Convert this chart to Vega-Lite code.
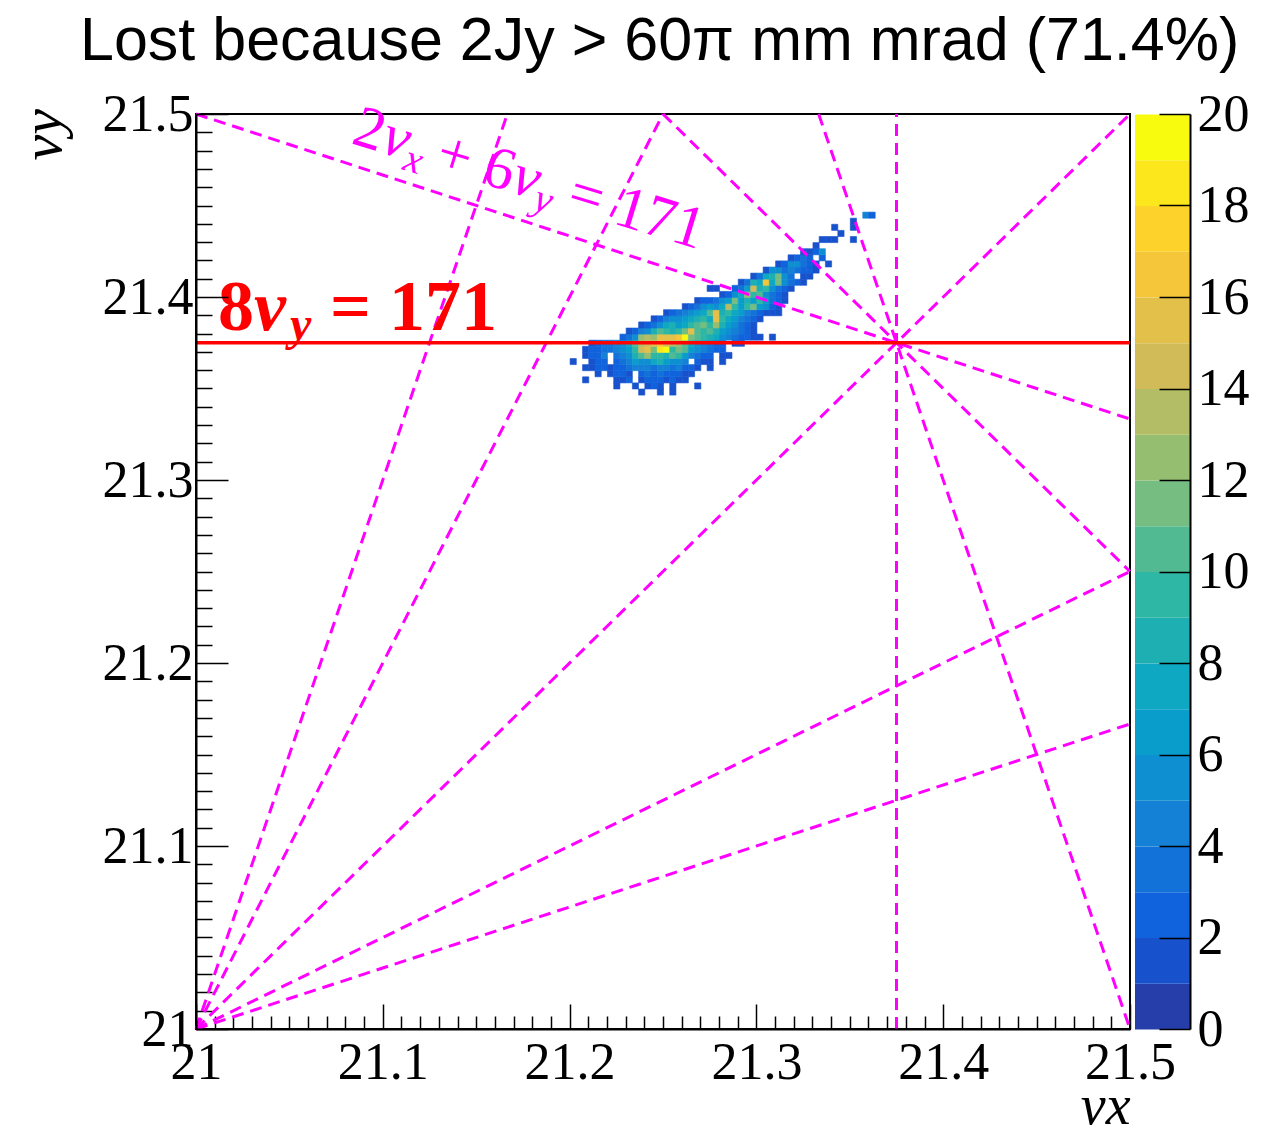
{
"$schema": "https://vega.github.io/schema/vega-lite/v6.json",
"autosize": "none",
"padding": {"left": 196, "top": 114, "right": 1079, "bottom": 1023},
"background": "white",
"title": {"text": "Lost because 2Jy > 60π mm mrad (71.4%)", "font": "Liberation Sans", "fontSize": 61, "fontWeight": "normal", "color": "black", "anchor": "start", "frame": "group", "dx": -116, "offset": -34, "baseline": "alphabetic"},
"spacing": 5,
"bounds": "flush",
"datasets": {
"cells": [
{"vx":21.23667,"vy":21.34667,"n":1},{"vx":21.24667,"vy":21.34667,"n":1},{"vx":21.25333,"vy":21.34667,"n":1},
{"vx":21.22333,"vy":21.35,"n":1},{"vx":21.23333,"vy":21.35,"n":1},{"vx":21.24,"vy":21.35,"n":1},{"vx":21.24333,"vy":21.35,"n":2},{"vx":21.24667,"vy":21.35,"n":1},{"vx":21.25333,"vy":21.35,"n":1},{"vx":21.26667,"vy":21.35,"n":1},
{"vx":21.20667,"vy":21.35333,"n":1},{"vx":21.22333,"vy":21.35333,"n":1},{"vx":21.22667,"vy":21.35333,"n":1},{"vx":21.23,"vy":21.35333,"n":2},{"vx":21.23667,"vy":21.35333,"n":1},{"vx":21.24,"vy":21.35333,"n":2},{"vx":21.24333,"vy":21.35333,"n":2},{"vx":21.24667,"vy":21.35333,"n":2},{"vx":21.25,"vy":21.35333,"n":1},{"vx":21.25333,"vy":21.35333,"n":2},{"vx":21.25667,"vy":21.35333,"n":1},{"vx":21.26,"vy":21.35333,"n":1},
{"vx":21.21333,"vy":21.35667,"n":1},{"vx":21.22,"vy":21.35667,"n":1},{"vx":21.22333,"vy":21.35667,"n":2},{"vx":21.22667,"vy":21.35667,"n":2},{"vx":21.23,"vy":21.35667,"n":1},{"vx":21.23667,"vy":21.35667,"n":2},{"vx":21.24,"vy":21.35667,"n":3},{"vx":21.24333,"vy":21.35667,"n":2},{"vx":21.24667,"vy":21.35667,"n":3},{"vx":21.25,"vy":21.35667,"n":2},{"vx":21.25333,"vy":21.35667,"n":2},{"vx":21.25667,"vy":21.35667,"n":2},{"vx":21.26,"vy":21.35667,"n":1},{"vx":21.26333,"vy":21.35667,"n":1},
{"vx":21.20667,"vy":21.36,"n":1},{"vx":21.21,"vy":21.36,"n":1},{"vx":21.21333,"vy":21.36,"n":2},{"vx":21.21667,"vy":21.36,"n":2},{"vx":21.22,"vy":21.36,"n":1},{"vx":21.22333,"vy":21.36,"n":2},{"vx":21.22667,"vy":21.36,"n":2},{"vx":21.23,"vy":21.36,"n":3},{"vx":21.23333,"vy":21.36,"n":4},{"vx":21.23667,"vy":21.36,"n":4},{"vx":21.24,"vy":21.36,"n":4},{"vx":21.24333,"vy":21.36,"n":3},{"vx":21.24667,"vy":21.36,"n":4},{"vx":21.25,"vy":21.36,"n":4},{"vx":21.25333,"vy":21.36,"n":3},{"vx":21.25667,"vy":21.36,"n":4},{"vx":21.26,"vy":21.36,"n":2},{"vx":21.26333,"vy":21.36,"n":2},{"vx":21.26667,"vy":21.36,"n":1},{"vx":21.27333,"vy":21.36,"n":1},
{"vx":21.2,"vy":21.36333,"n":1},{"vx":21.21,"vy":21.36333,"n":1},{"vx":21.21333,"vy":21.36333,"n":2},{"vx":21.21667,"vy":21.36333,"n":2},{"vx":21.22333,"vy":21.36333,"n":2},{"vx":21.22667,"vy":21.36333,"n":3},{"vx":21.23,"vy":21.36333,"n":4},{"vx":21.23333,"vy":21.36333,"n":6},{"vx":21.23667,"vy":21.36333,"n":5},{"vx":21.24,"vy":21.36333,"n":5},{"vx":21.24333,"vy":21.36333,"n":7},{"vx":21.24667,"vy":21.36333,"n":8},{"vx":21.25,"vy":21.36333,"n":6},{"vx":21.25333,"vy":21.36333,"n":5},{"vx":21.25667,"vy":21.36333,"n":5},{"vx":21.26,"vy":21.36333,"n":4},{"vx":21.26667,"vy":21.36333,"n":2},{"vx":21.27,"vy":21.36333,"n":1},{"vx":21.27333,"vy":21.36333,"n":1},{"vx":21.28,"vy":21.36333,"n":1},
{"vx":21.20667,"vy":21.36667,"n":1},{"vx":21.21,"vy":21.36667,"n":2},{"vx":21.21333,"vy":21.36667,"n":2},{"vx":21.21667,"vy":21.36667,"n":4},{"vx":21.22333,"vy":21.36667,"n":3},{"vx":21.22667,"vy":21.36667,"n":4},{"vx":21.23,"vy":21.36667,"n":5},{"vx":21.23333,"vy":21.36667,"n":8},{"vx":21.23667,"vy":21.36667,"n":10},{"vx":21.24,"vy":21.36667,"n":12},{"vx":21.24333,"vy":21.36667,"n":9},{"vx":21.24667,"vy":21.36667,"n":9},{"vx":21.25,"vy":21.36667,"n":8},{"vx":21.25333,"vy":21.36667,"n":10},{"vx":21.25667,"vy":21.36667,"n":9},{"vx":21.26,"vy":21.36667,"n":6},{"vx":21.26333,"vy":21.36667,"n":4},{"vx":21.26667,"vy":21.36667,"n":3},{"vx":21.27,"vy":21.36667,"n":2},{"vx":21.27333,"vy":21.36667,"n":2},{"vx":21.28,"vy":21.36667,"n":1},{"vx":21.28333,"vy":21.36667,"n":1},
{"vx":21.20667,"vy":21.37,"n":1},{"vx":21.21,"vy":21.37,"n":2},{"vx":21.21333,"vy":21.37,"n":2},{"vx":21.21667,"vy":21.37,"n":3},{"vx":21.22,"vy":21.37,"n":3},{"vx":21.22333,"vy":21.37,"n":4},{"vx":21.22667,"vy":21.37,"n":5},{"vx":21.23,"vy":21.37,"n":6},{"vx":21.23333,"vy":21.37,"n":9},{"vx":21.23667,"vy":21.37,"n":14},{"vx":21.24,"vy":21.37,"n":15},{"vx":21.24333,"vy":21.37,"n":11},{"vx":21.24667,"vy":21.37,"n":18},{"vx":21.25,"vy":21.37,"n":19},{"vx":21.25333,"vy":21.37,"n":9},{"vx":21.25667,"vy":21.37,"n":11},{"vx":21.26,"vy":21.37,"n":10},{"vx":21.26333,"vy":21.37,"n":6},{"vx":21.26667,"vy":21.37,"n":5},{"vx":21.27,"vy":21.37,"n":4},{"vx":21.27333,"vy":21.37,"n":3},{"vx":21.27667,"vy":21.37,"n":2},{"vx":21.28,"vy":21.37,"n":2},
{"vx":21.21,"vy":21.37333,"n":1},{"vx":21.21333,"vy":21.37333,"n":2},{"vx":21.21667,"vy":21.37333,"n":3},{"vx":21.22,"vy":21.37333,"n":3},{"vx":21.22333,"vy":21.37333,"n":4},{"vx":21.22667,"vy":21.37333,"n":5},{"vx":21.23,"vy":21.37333,"n":7},{"vx":21.23333,"vy":21.37333,"n":10},{"vx":21.23667,"vy":21.37333,"n":13},{"vx":21.24,"vy":21.37333,"n":14},{"vx":21.24333,"vy":21.37333,"n":15},{"vx":21.24667,"vy":21.37333,"n":16},{"vx":21.25,"vy":21.37333,"n":14},{"vx":21.25333,"vy":21.37333,"n":13},{"vx":21.25667,"vy":21.37333,"n":12},{"vx":21.26,"vy":21.37333,"n":10},{"vx":21.26333,"vy":21.37333,"n":7},{"vx":21.26667,"vy":21.37333,"n":5},{"vx":21.27,"vy":21.37333,"n":4},{"vx":21.27333,"vy":21.37333,"n":3},{"vx":21.27667,"vy":21.37333,"n":2},{"vx":21.28,"vy":21.37333,"n":2},{"vx":21.28667,"vy":21.37333,"n":1},{"vx":21.29,"vy":21.37333,"n":1},
{"vx":21.22667,"vy":21.37667,"n":2},{"vx":21.23,"vy":21.37667,"n":3},{"vx":21.23333,"vy":21.37667,"n":5},{"vx":21.23667,"vy":21.37667,"n":12},{"vx":21.24,"vy":21.37667,"n":13},{"vx":21.24333,"vy":21.37667,"n":12},{"vx":21.24667,"vy":21.37667,"n":15},{"vx":21.25,"vy":21.37667,"n":15},{"vx":21.25333,"vy":21.37667,"n":15},{"vx":21.25667,"vy":21.37667,"n":16},{"vx":21.26,"vy":21.37667,"n":19},{"vx":21.26333,"vy":21.37667,"n":11},{"vx":21.26667,"vy":21.37667,"n":10},{"vx":21.27,"vy":21.37667,"n":9},{"vx":21.27333,"vy":21.37667,"n":8},{"vx":21.27667,"vy":21.37667,"n":7},{"vx":21.28,"vy":21.37667,"n":5},{"vx":21.28333,"vy":21.37667,"n":4},{"vx":21.28667,"vy":21.37667,"n":3},{"vx":21.29,"vy":21.37667,"n":2},{"vx":21.29333,"vy":21.37667,"n":2},{"vx":21.29667,"vy":21.37667,"n":1},{"vx":21.3,"vy":21.37667,"n":1},{"vx":21.30667,"vy":21.37667,"n":1},
{"vx":21.23,"vy":21.38,"n":1},{"vx":21.23333,"vy":21.38,"n":2},{"vx":21.23667,"vy":21.38,"n":4},{"vx":21.24,"vy":21.38,"n":5},{"vx":21.24333,"vy":21.38,"n":8},{"vx":21.24667,"vy":21.38,"n":10},{"vx":21.25,"vy":21.38,"n":9},{"vx":21.25333,"vy":21.38,"n":8},{"vx":21.25667,"vy":21.38,"n":9},{"vx":21.26,"vy":21.38,"n":11},{"vx":21.26333,"vy":21.38,"n":15},{"vx":21.26667,"vy":21.38,"n":10},{"vx":21.27,"vy":21.38,"n":9},{"vx":21.27333,"vy":21.38,"n":10},{"vx":21.27667,"vy":21.38,"n":8},{"vx":21.28,"vy":21.38,"n":6},{"vx":21.28333,"vy":21.38,"n":5},{"vx":21.28667,"vy":21.38,"n":4},{"vx":21.29,"vy":21.38,"n":3},{"vx":21.29333,"vy":21.38,"n":2},{"vx":21.29667,"vy":21.38,"n":1},
{"vx":21.23667,"vy":21.38333,"n":1},{"vx":21.24,"vy":21.38333,"n":2},{"vx":21.24333,"vy":21.38333,"n":3},{"vx":21.24667,"vy":21.38333,"n":5},{"vx":21.25,"vy":21.38333,"n":7},{"vx":21.25333,"vy":21.38333,"n":8},{"vx":21.25667,"vy":21.38333,"n":6},{"vx":21.26,"vy":21.38333,"n":7},{"vx":21.26333,"vy":21.38333,"n":9},{"vx":21.26667,"vy":21.38333,"n":10},{"vx":21.27,"vy":21.38333,"n":11},{"vx":21.27333,"vy":21.38333,"n":9},{"vx":21.27667,"vy":21.38333,"n":12},{"vx":21.28,"vy":21.38333,"n":8},{"vx":21.28333,"vy":21.38333,"n":6},{"vx":21.28667,"vy":21.38333,"n":5},{"vx":21.29,"vy":21.38333,"n":3},{"vx":21.29333,"vy":21.38333,"n":2},{"vx":21.29667,"vy":21.38333,"n":1},
{"vx":21.24333,"vy":21.38667,"n":1},{"vx":21.24667,"vy":21.38667,"n":2},{"vx":21.25,"vy":21.38667,"n":4},{"vx":21.25333,"vy":21.38667,"n":5},{"vx":21.25667,"vy":21.38667,"n":5},{"vx":21.26,"vy":21.38667,"n":6},{"vx":21.26333,"vy":21.38667,"n":7},{"vx":21.26667,"vy":21.38667,"n":8},{"vx":21.27,"vy":21.38667,"n":9},{"vx":21.27333,"vy":21.38667,"n":7},{"vx":21.27667,"vy":21.38667,"n":15},{"vx":21.28,"vy":21.38667,"n":9},{"vx":21.28333,"vy":21.38667,"n":7},{"vx":21.28667,"vy":21.38667,"n":6},{"vx":21.29,"vy":21.38667,"n":4},{"vx":21.29333,"vy":21.38667,"n":3},{"vx":21.29667,"vy":21.38667,"n":2},{"vx":21.3,"vy":21.38667,"n":1},
{"vx":21.25,"vy":21.39,"n":1},{"vx":21.25333,"vy":21.39,"n":2},{"vx":21.25667,"vy":21.39,"n":3},{"vx":21.26,"vy":21.39,"n":4},{"vx":21.26333,"vy":21.39,"n":5},{"vx":21.26667,"vy":21.39,"n":6},{"vx":21.27,"vy":21.39,"n":7},{"vx":21.27333,"vy":21.39,"n":10},{"vx":21.27667,"vy":21.39,"n":15},{"vx":21.28,"vy":21.39,"n":8},{"vx":21.28333,"vy":21.39,"n":9},{"vx":21.28667,"vy":21.39,"n":7},{"vx":21.29,"vy":21.39,"n":6},{"vx":21.29333,"vy":21.39,"n":4},{"vx":21.29667,"vy":21.39,"n":3},{"vx":21.3,"vy":21.39,"n":2},{"vx":21.30333,"vy":21.39,"n":1},{"vx":21.30667,"vy":21.39,"n":1},{"vx":21.31,"vy":21.39,"n":1},
{"vx":21.26,"vy":21.39333,"n":1},{"vx":21.26333,"vy":21.39333,"n":2},{"vx":21.26667,"vy":21.39333,"n":3},{"vx":21.27,"vy":21.39333,"n":5},{"vx":21.27333,"vy":21.39333,"n":6},{"vx":21.27667,"vy":21.39333,"n":5},{"vx":21.28,"vy":21.39333,"n":7},{"vx":21.28333,"vy":21.39333,"n":13},{"vx":21.28667,"vy":21.39333,"n":9},{"vx":21.29,"vy":21.39333,"n":6},{"vx":21.29333,"vy":21.39333,"n":9},{"vx":21.29667,"vy":21.39333,"n":11},{"vx":21.3,"vy":21.39333,"n":6},{"vx":21.30333,"vy":21.39333,"n":5},{"vx":21.30667,"vy":21.39333,"n":2},{"vx":21.31,"vy":21.39333,"n":1},
{"vx":21.26667,"vy":21.39667,"n":1},{"vx":21.27,"vy":21.39667,"n":2},{"vx":21.27333,"vy":21.39667,"n":2},{"vx":21.27667,"vy":21.39667,"n":3},{"vx":21.28,"vy":21.39667,"n":5},{"vx":21.28333,"vy":21.39667,"n":6},{"vx":21.28667,"vy":21.39667,"n":11},{"vx":21.29,"vy":21.39667,"n":6},{"vx":21.29333,"vy":21.39667,"n":8},{"vx":21.29667,"vy":21.39667,"n":6},{"vx":21.3,"vy":21.39667,"n":9},{"vx":21.30333,"vy":21.39667,"n":6},{"vx":21.30667,"vy":21.39667,"n":3},{"vx":21.31,"vy":21.39667,"n":2},{"vx":21.31333,"vy":21.39667,"n":1},
{"vx":21.28,"vy":21.4,"n":1},{"vx":21.28333,"vy":21.4,"n":2},{"vx":21.28667,"vy":21.4,"n":5},{"vx":21.29,"vy":21.4,"n":7},{"vx":21.29333,"vy":21.4,"n":12},{"vx":21.29667,"vy":21.4,"n":9},{"vx":21.3,"vy":21.4,"n":10},{"vx":21.30333,"vy":21.4,"n":5},{"vx":21.30667,"vy":21.4,"n":3},{"vx":21.31,"vy":21.4,"n":2},{"vx":21.31333,"vy":21.4,"n":1},
{"vx":21.27333,"vy":21.40333,"n":1},{"vx":21.27667,"vy":21.40333,"n":1},{"vx":21.28667,"vy":21.40333,"n":2},{"vx":21.29,"vy":21.40333,"n":3},{"vx":21.29333,"vy":21.40333,"n":6},{"vx":21.29667,"vy":21.40333,"n":14},{"vx":21.3,"vy":21.40333,"n":8},{"vx":21.30333,"vy":21.40333,"n":9},{"vx":21.30667,"vy":21.40333,"n":5},{"vx":21.31,"vy":21.40333,"n":3},{"vx":21.31333,"vy":21.40333,"n":2},{"vx":21.31667,"vy":21.40333,"n":1},
{"vx":21.29,"vy":21.40667,"n":1},{"vx":21.29333,"vy":21.40667,"n":3},{"vx":21.29667,"vy":21.40667,"n":8},{"vx":21.3,"vy":21.40667,"n":7},{"vx":21.30333,"vy":21.40667,"n":16},{"vx":21.30667,"vy":21.40667,"n":7},{"vx":21.31,"vy":21.40667,"n":11},{"vx":21.31333,"vy":21.40667,"n":5},{"vx":21.31667,"vy":21.40667,"n":3},{"vx":21.32,"vy":21.40667,"n":2},{"vx":21.32333,"vy":21.40667,"n":1},
{"vx":21.29667,"vy":21.41,"n":1},{"vx":21.3,"vy":21.41,"n":3},{"vx":21.30333,"vy":21.41,"n":7},{"vx":21.30667,"vy":21.41,"n":8},{"vx":21.31,"vy":21.41,"n":11},{"vx":21.31333,"vy":21.41,"n":5},{"vx":21.31667,"vy":21.41,"n":3},{"vx":21.32333,"vy":21.41,"n":1},{"vx":21.32667,"vy":21.41,"n":1},
{"vx":21.30333,"vy":21.41333,"n":1},{"vx":21.30667,"vy":21.41333,"n":5},{"vx":21.31,"vy":21.41333,"n":5},{"vx":21.31333,"vy":21.41333,"n":3},{"vx":21.31667,"vy":21.41333,"n":4},{"vx":21.32,"vy":21.41333,"n":3},{"vx":21.32333,"vy":21.41333,"n":2},{"vx":21.32667,"vy":21.41333,"n":2},{"vx":21.33,"vy":21.41333,"n":1},
{"vx":21.31,"vy":21.41667,"n":1},{"vx":21.31333,"vy":21.41667,"n":2},{"vx":21.31667,"vy":21.41667,"n":5},{"vx":21.32,"vy":21.41667,"n":5},{"vx":21.32333,"vy":21.41667,"n":3},{"vx":21.32667,"vy":21.41667,"n":2},{"vx":21.33,"vy":21.41667,"n":1},{"vx":21.33667,"vy":21.41667,"n":1},
{"vx":21.31667,"vy":21.42,"n":1},{"vx":21.32,"vy":21.42,"n":2},{"vx":21.32333,"vy":21.42,"n":3},{"vx":21.32667,"vy":21.42,"n":2},{"vx":21.33333,"vy":21.42,"n":2},
{"vx":21.32333,"vy":21.42333,"n":1},{"vx":21.32667,"vy":21.42333,"n":1},{"vx":21.33,"vy":21.42333,"n":2},{"vx":21.33333,"vy":21.42333,"n":5},
{"vx":21.33,"vy":21.42667,"n":1},
{"vx":21.33333,"vy":21.43,"n":1},{"vx":21.33667,"vy":21.43,"n":1},{"vx":21.34,"vy":21.43,"n":1},{"vx":21.35,"vy":21.43,"n":1},
{"vx":21.34333,"vy":21.43333,"n":1},
{"vx":21.34,"vy":21.43667,"n":1},{"vx":21.35,"vy":21.43667,"n":1},
{"vx":21.35,"vy":21.44,"n":1},
{"vx":21.35667,"vy":21.44333,"n":4},{"vx":21.36,"vy":21.44333,"n":2}
],
"resonances": [
{"ax":21,"ay":21,"bx":21.16667,"by":21.5},
{"ax":21,"ay":21,"bx":21.25,"by":21.5},
{"ax":21,"ay":21,"bx":21.5,"by":21.5},
{"ax":21,"ay":21,"bx":21.5,"by":21.25},
{"ax":21,"ay":21,"bx":21.5,"by":21.16667},
{"ax":21.375,"ay":21,"bx":21.375,"by":21.5},
{"ax":21,"ay":21.5,"bx":21.5,"by":21.33333},
{"ax":21.25,"ay":21.5,"bx":21.5,"by":21.25},
{"ax":21.33333,"ay":21.5,"bx":21.5,"by":21}
],
"hline": [{"ax":21,"ay":21.375,"bx":21.5,"by":21.375}],
"origin": [{"vx":21,"vy":21}],
"magUp": [{"t":"2","vx":21.08244,"vy":21.48415},{"t":"+ 6","vx":21.12698,"vy":21.47027},{"t":"= 171","vx":21.19759,"vy":21.44825}],
"magNu": [{"t":"ν","vx":21.09781,"vy":21.47934},{"t":"ν","vx":21.1674,"vy":21.45765}],
"magSub": [{"t":"x","vx":21.11006,"vy":21.46984},{"t":"y","vx":21.17966,"vy":21.44809}],
"redUp": [{"t":"8","vx":21.01178,"vy":21.38197},{"t":"= 171","vx":21.07173,"vy":21.38197}],
"redNu": [{"t":"ν","vx":21.03105,"vy":21.38197}],
"redSub": [{"t":"y","vx":21.05032,"vy":21.3765}],
"levels": [{"lv":0},{"lv":1},{"lv":2},{"lv":3},{"lv":4},{"lv":5},{"lv":6},{"lv":7},{"lv":8},{"lv":9},{"lv":10},{"lv":11},{"lv":12},{"lv":13},{"lv":14},{"lv":15},{"lv":16},{"lv":17},{"lv":18},{"lv":19}]
},
"hconcat": [
{
"width": 934, "height": 915,
"resolve": {"axis": {"x": "independent", "y": "independent"}},
"layer": [
{"data": {"name": "cells"}, "mark": {"type": "rect", "strokeWidth": 0.6},
 "encoding": {
  "x": {"field": "vx", "type": "quantitative", "bin": {"binned": true, "step": 0.00333333},
   "scale": {"domain": [21, 21.5], "nice": false, "zero": false},
   "axis": {"orient": "bottom", "title": "νx", "values": [21, 21.1, 21.2, 21.3, 21.4, 21.5], "format": "~g",
    "tickSize": -25, "labelPadding": 33, "labelBaseline": "top", "labelAlign": "center",
    "titleX": 934, "titleY": 94, "titleFontSize": 56, "titleAlign": "right", "titleAnchor": "end", "titleBaseline": "alphabetic", "titleAngle": 0}},
  "y": {"field": "vy", "type": "quantitative", "bin": {"binned": true, "step": 0.00333333},
   "scale": {"domain": [21, 21.5], "nice": false, "zero": false},
   "axis": {"orient": "left", "title": "νy", "values": [21, 21.1, 21.2, 21.3, 21.4, 21.5], "format": "~g",
    "tickSize": -32, "labelPadding": 35, "labelBaseline": "middle", "labelAlign": "right",
    "titleX": -136, "titleY": 46, "titleFontSize": 58, "titleAlign": "left", "titleAnchor": "start", "titleBaseline": "alphabetic", "titleAngle": 270}},
  "color": {"field": "n", "type": "quantitative",
   "scale": {"type": "threshold", "domain": [1,2,3,4,5,6,7,8,9,10,11,12,13,14,15,16,17,18,19],
    "range": ["#263ea9","#1752cc","#1063dc","#1272d9","#1481d6","#0e8fd1","#099dcc","#0ea8c2","#1eafb3","#2eb7a4","#52ba92","#75bd80","#96be71","#b3bd65","#d1bb59","#e3c04a","#f5c63a","#fdd32b","#fbe71c","#f9fb0e"]},
   "legend": null},
  "stroke": {"field": "n", "type": "quantitative",
   "scale": {"type": "threshold", "domain": [1,2,3,4,5,6,7,8,9,10,11,12,13,14,15,16,17,18,19],
    "range": ["#263ea9","#1752cc","#1063dc","#1272d9","#1481d6","#0e8fd1","#099dcc","#0ea8c2","#1eafb3","#2eb7a4","#52ba92","#75bd80","#96be71","#b3bd65","#d1bb59","#e3c04a","#f5c63a","#fdd32b","#fbe71c","#f9fb0e"]},
   "legend": null}
 }},
{"data": {"name": "resonances"}, "mark": {"type": "rule", "color": "#ff00ff", "strokeWidth": 3, "strokeDash": [12, 7]},
 "encoding": {
  "x": {"field": "ax", "type": "quantitative",
   "axis": {"orient": "top", "offset": -915, "title": null, "labels": false, "domain": false, "tickSize": 13,
    "values": [21.01,21.02,21.03,21.04,21.05,21.06,21.07,21.08,21.09,21.11,21.12,21.13,21.14,21.15,21.16,21.17,21.18,21.19,21.21,21.22,21.23,21.24,21.25,21.26,21.27,21.28,21.29,21.31,21.32,21.33,21.34,21.35,21.36,21.37,21.38,21.39,21.41,21.42,21.43,21.44,21.45,21.46,21.47,21.48,21.49]}},
  "y": {"field": "ay", "type": "quantitative",
   "axis": {"orient": "right", "offset": -934, "title": null, "labels": false, "domain": false, "tickSize": 16,
    "values": [21.01,21.02,21.03,21.04,21.05,21.06,21.07,21.08,21.09,21.11,21.12,21.13,21.14,21.15,21.16,21.17,21.18,21.19,21.21,21.22,21.23,21.24,21.25,21.26,21.27,21.28,21.29,21.31,21.32,21.33,21.34,21.35,21.36,21.37,21.38,21.39,21.41,21.42,21.43,21.44,21.45,21.46,21.47,21.48,21.49]}},
  "x2": {"field": "bx"}, "y2": {"field": "by"}}},
{"data": {"name": "hline"}, "mark": {"type": "rule", "color": "#ff0000", "strokeWidth": 3.5},
 "encoding": {"x": {"field": "ax", "type": "quantitative", "axis": null}, "y": {"field": "ay", "type": "quantitative", "axis": null}, "x2": {"field": "bx"}, "y2": {"field": "by"}}},
{"data": {"name": "origin"}, "mark": {"type": "point", "filled": true, "color": "#ff00ff", "size": 160, "opacity": 1, "clip": true},
 "encoding": {"x": {"field": "vx", "type": "quantitative", "axis": null}, "y": {"field": "vy", "type": "quantitative", "axis": null}}},
{"data": {"name": "magUp"}, "mark": {"type": "text", "font": "Liberation Serif", "fontSize": 60, "color": "#ff00ff", "angle": 17, "align": "left", "baseline": "alphabetic"},
 "encoding": {"x": {"field": "vx", "type": "quantitative", "axis": null}, "y": {"field": "vy", "type": "quantitative", "axis": null}, "text": {"field": "t"}}},
{"data": {"name": "magNu"}, "mark": {"type": "text", "font": "Liberation Serif", "fontStyle": "italic", "fontSize": 60, "color": "#ff00ff", "angle": 17, "align": "left", "baseline": "alphabetic"},
 "encoding": {"x": {"field": "vx", "type": "quantitative", "axis": null}, "y": {"field": "vy", "type": "quantitative", "axis": null}, "text": {"field": "t"}}},
{"data": {"name": "magSub"}, "mark": {"type": "text", "font": "Liberation Serif", "fontStyle": "italic", "fontSize": 40, "color": "#ff00ff", "angle": 17, "align": "left", "baseline": "alphabetic"},
 "encoding": {"x": {"field": "vx", "type": "quantitative", "axis": null}, "y": {"field": "vy", "type": "quantitative", "axis": null}, "text": {"field": "t"}}},
{"data": {"name": "redUp"}, "mark": {"type": "text", "font": "Liberation Serif", "fontWeight": "bold", "fontSize": 72, "color": "#ff0000", "align": "left", "baseline": "alphabetic"},
 "encoding": {"x": {"field": "vx", "type": "quantitative", "axis": null}, "y": {"field": "vy", "type": "quantitative", "axis": null}, "text": {"field": "t"}}},
{"data": {"name": "redNu"}, "mark": {"type": "text", "font": "Liberation Serif", "fontWeight": "bold", "fontStyle": "italic", "fontSize": 72, "color": "#ff0000", "align": "left", "baseline": "alphabetic"},
 "encoding": {"x": {"field": "vx", "type": "quantitative", "axis": null}, "y": {"field": "vy", "type": "quantitative", "axis": null}, "text": {"field": "t"}}},
{"data": {"name": "redSub"}, "mark": {"type": "text", "font": "Liberation Serif", "fontWeight": "bold", "fontStyle": "italic", "fontSize": 48, "color": "#ff0000", "align": "left", "baseline": "alphabetic"},
 "encoding": {"x": {"field": "vx", "type": "quantitative", "axis": null}, "y": {"field": "vy", "type": "quantitative", "axis": null}, "text": {"field": "t"}}}
]
},
{
"width": 55, "height": 915,
"view": {"stroke": null},
"data": {"name": "levels"},
"mark": {"type": "rect"},
"encoding": {
 "y": {"field": "lv", "type": "quantitative", "bin": {"binned": true, "step": 1},
  "scale": {"domain": [0, 20], "nice": false},
  "axis": {"orient": "right", "title": null, "values": [0,2,4,6,8,10,12,14,16,18,20], "format": "d", "tickSize": -31, "labelPadding": 38, "labelBaseline": "middle", "labelAlign": "left"}},
 "color": {"field": "lv", "type": "quantitative",
  "scale": {"type": "threshold", "domain": [1,2,3,4,5,6,7,8,9,10,11,12,13,14,15,16,17,18,19],
   "range": ["#263ea9","#1752cc","#1063dc","#1272d9","#1481d6","#0e8fd1","#099dcc","#0ea8c2","#1eafb3","#2eb7a4","#52ba92","#75bd80","#96be71","#b3bd65","#d1bb59","#e3c04a","#f5c63a","#fdd32b","#fbe71c","#f9fb0e"]},
  "legend": null}
}
}
],
"resolve": {"scale": {"color": "independent", "y": "independent"}},
"config": {
 "view": {"stroke": "black", "strokeWidth": 2},
 "axis": {"grid": false, "domain": true, "domainColor": "black", "domainWidth": 2, "tickColor": "black", "tickWidth": 1.5,
  "labelFont": "Liberation Serif", "labelFontSize": 52, "labelColor": "black", "labelFlush": false, "labelOverlap": false, "labelBound": false,
  "titleFont": "Liberation Serif", "titleFontStyle": "italic", "titleFontWeight": "normal", "titleFontSize": 60, "titleColor": "black"}
}
}
